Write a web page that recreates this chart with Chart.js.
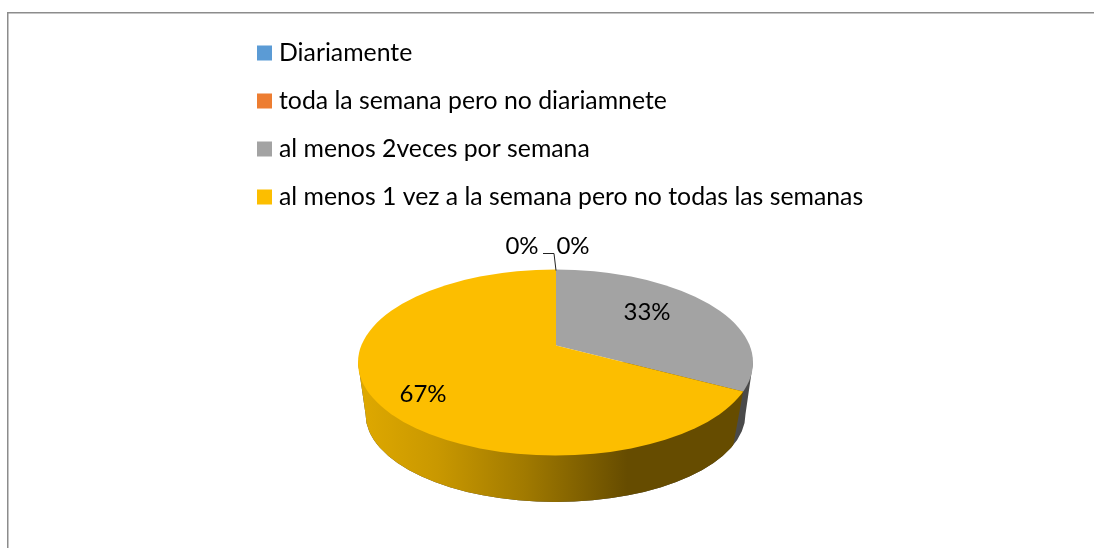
<!DOCTYPE html>
<html><head><meta charset="utf-8">
<style>html,body{margin:0;padding:0;background:#fff}canvas{display:block}</style>
<script src="https://cdn.jsdelivr.net/npm/chart.js@4"></script>
</head><body>
<canvas id="c" width="1094" height="548"></canvas>
<script>
const categories = ['Diariamente','toda la semana pero no diariamnete','al menos 2veces por semana','al menos 1 vez a la semana pero no todas las semanas'];
const shares = [0,0,33,67];
const sliceColors = ['#5B9BD5','#ED7D31','#A3A3A3','#FCBE00'];
const labelSpots = [[522,246],[573,246],[647,312],[423,394]];

const top3d = {cx:555.5, cy:362.5, rx:197.5, ry:93, apexX:556, apexY:345.5, squash:0.447};
const base3d = {cx:555.5, cy:414, rx:190, ry:88};

const pie3d = {
  id:'pie3d',
  afterLayout(chart){
    chart.legend.top += 17.5;
    chart.legend.bottom += 17.5;
  },
  beforeDraw(chart){
    const ctx = chart.ctx;
    ctx.save();
    ctx.fillStyle = '#8c8c8c';
    ctx.fillRect(7,12,1087,1.5);
    ctx.fillRect(7,12,1.5,536);
    ctx.restore();
  },
  beforeDatasetsDraw(chart){
    const ctx = chart.ctx, t = top3d, b = base3d;
    const arcs = chart.getDatasetMeta(0).data;
    const boundary = arcs[2].endAngle + Math.PI/2;   // clockwise from top
    const dx = Math.sin(boundary), dy = -Math.cos(boundary);
    // where the slice edge leaves the top ellipse
    const k = t.squash;
    const A = (dx*dx)/(t.rx*t.rx)+(dy*k*dy*k)/(t.ry*t.ry);
    const ox = t.apexX-t.cx, oy = t.apexY-t.cy;
    const B = 2*(ox*dx/(t.rx*t.rx)+oy*dy*k/(t.ry*t.ry));
    const C = ox*ox/(t.rx*t.rx)+oy*oy/(t.ry*t.ry)-1;
    const s = (-B+Math.sqrt(B*B-4*A*C))/(2*A);
    const px = t.apexX+s*dx, py = t.apexY+s*dy*k;
    const qx = b.cx+(px-t.cx)*b.rx/t.rx*0.985;
    const qy = b.cy+b.ry*Math.sqrt(Math.max(0,1-Math.pow((qx-b.cx)/b.rx,2)));

    const sidePath = () => {
      ctx.beginPath();
      ctx.moveTo(t.cx-t.rx,t.cy);
      ctx.lineTo(b.cx-b.rx,b.cy);
      ctx.ellipse(b.cx,b.cy,b.rx,b.ry,0,Math.PI,0,true);
      ctx.lineTo(t.cx+t.rx,t.cy);
      ctx.closePath();
    };
    ctx.save();
    sidePath();
    ctx.fillStyle = '#4a4a4a';
    ctx.fill();
    ctx.restore();

    ctx.save();
    ctx.beginPath();
    ctx.moveTo(px,py);
    ctx.lineTo(qx,qy);
    ctx.lineTo(qx,560);
    ctx.lineTo(300,560);
    ctx.lineTo(300,300);
    ctx.lineTo(px,300);
    ctx.closePath();
    ctx.clip();
    sidePath();
    const g = ctx.createLinearGradient(358,0,754,0);
    g.addColorStop(0,'#dfa900');
    g.addColorStop(0.2,'#c99800');
    g.addColorStop(0.42,'#a17a00');
    g.addColorStop(0.68,'#664c00');
    g.addColorStop(1,'#664c00');
    ctx.fillStyle = g;
    ctx.fill();
    ctx.restore();

    // top face: the library's arcs, flattened and trimmed to the ellipse
    const e = arcs[0];
    ctx.save();
    ctx.beginPath();
    ctx.ellipse(t.cx,t.cy,t.rx,t.ry,0,0,Math.PI*2);
    ctx.clip();
    ctx.translate(t.apexX,t.apexY);
    ctx.scale(1,t.squash);
    ctx.translate(-e.x,-e.y);
  },
  afterDatasetsDraw(chart){
    const ctx = chart.ctx;
    ctx.restore();
    ctx.save();
    ctx.strokeStyle = '#222';
    ctx.lineWidth = 1;
    ctx.beginPath();
    ctx.moveTo(543,253.5);
    ctx.lineTo(554,253.5);
    ctx.lineTo(556,270.5);
    ctx.stroke();
    ctx.fillStyle = '#000';
    ctx.font = '24px Lato';
    ctx.textAlign = 'center';
    ctx.textBaseline = 'middle';
    const total = shares.reduce((a,v)=>a+v,0);
    shares.forEach((v,i)=>{
      ctx.fillText(Math.round(v/total*100)+'%',labelSpots[i][0],labelSpots[i][1]);
    });
    ctx.restore();
  }
};

new Chart(document.getElementById('c'),{
  type:'pie',
  data:{labels:categories,datasets:[{data:shares,backgroundColor:sliceColors,borderWidth:0,clip:false,radius:300}]},
  options:{
    responsive:false,
    animation:false,
    layout:{padding:{left:239.2,top:45,right:200,bottom:10}},
    plugins:{
      tooltip:{enabled:false},
      legend:{
        position:'chartArea',
        align:'start',
        labels:{
          color:'#000',
          font:{family:'Lato',size:24.8},
          usePointStyle:true,
          pointStyle:'rect',
          boxWidth:4.2,
          boxHeight:15,
          padding:23.2
        }
      }
    }
  },
  plugins:[pie3d]
});
</script>
</body></html>
